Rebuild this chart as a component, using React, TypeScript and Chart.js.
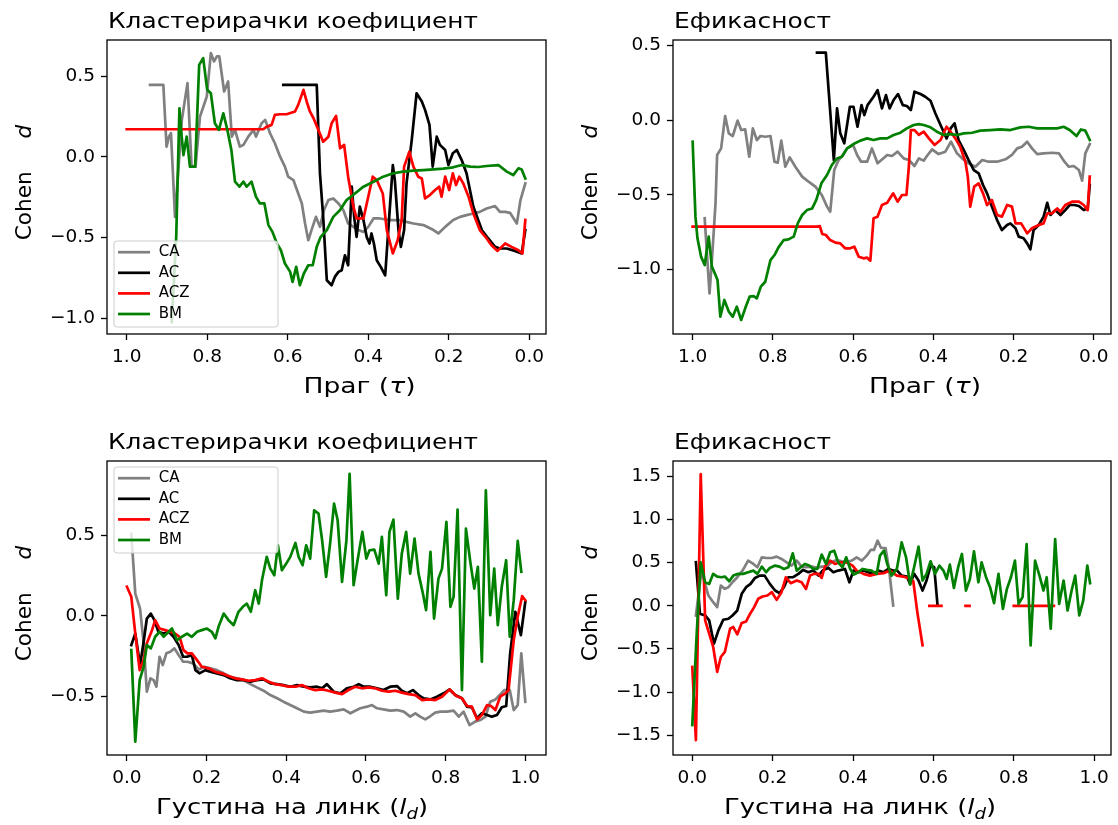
import React, { useEffect, useRef } from "react";
import { Chart, registerables } from "chart.js";

Chart.register(...registerables);

type Pt = [number, number | null];

const SERIES_NAMES = ["CA", "AC", "ACZ", "BM"];
const SERIES_COLORS = ["#808080", "#000000", "#ff0000", "#008000"];

const TITLE_CLUST = "Кластерирачки коефициент";
const TITLE_EFF = "Ефикасност";

const X_TICKS = [0, 0.2, 0.4, 0.6, 0.8, 1.0];
const Y_TICKS_TAU = [-1.0, -0.5, 0, 0.5];
const Y_TICKS_DENS_CLUST = [-0.5, 0, 0.5];
const Y_TICKS_DENS_EFF = [-1.5, -1.0, -0.5, 0, 0.5, 1.0, 1.5];

// Threshold sweep, clustering coefficient
const TAU_CLUST_CA: Pt[] = [
  [0.942, 0.447], [0.909, 0.447], [0.901, 0.064], [0.895, 0.126], [0.89, 0.147], [0.88, -0.371],
  [0.863, 0.23], [0.849, 0.458], [0.839, -0.05], [0.829, -0.06], [0.818, 0.25], [0.801, 0.375],
  [0.791, 0.644], [0.783, 0.592], [0.776, 0.623], [0.77, 0.623], [0.758, 0.406], [0.748, 0.468],
  [0.739, 0.126], [0.731, 0.168], [0.719, 0.064], [0.71, 0.075], [0.698, 0.126], [0.685, 0.168],
  [0.679, 0.126], [0.665, 0.209], [0.656, 0.23], [0.644, 0.147], [0.632, 0.085], [0.619, 0.002],
  [0.607, -0.06], [0.599, -0.122], [0.586, -0.143], [0.574, -0.226], [0.565, -0.288], [0.557, -0.412],
  [0.549, -0.516], [0.541, -0.453], [0.53, -0.371], [0.52, -0.433], [0.51, -0.329], [0.499, -0.267],
  [0.487, -0.257], [0.474, -0.288], [0.462, -0.329], [0.45, -0.412], [0.437, -0.433], [0.425, -0.453],
  [0.412, -0.464], [0.4, -0.433], [0.387, -0.381], [0.371, -0.381], [0.346, -0.391], [0.321, -0.391],
  [0.305, -0.402], [0.288, -0.412], [0.263, -0.422], [0.238, -0.453], [0.226, -0.474], [0.209, -0.433],
  [0.189, -0.391], [0.172, -0.371], [0.156, -0.36], [0.139, -0.35], [0.123, -0.34], [0.106, -0.319],
  [0.085, -0.304], [0.073, -0.34], [0.06, -0.34], [0.048, -0.346], [0.031, -0.412], [0.022, -0.267],
  [0.01, -0.164],
];
const TAU_CLUST_AC: Pt[] = [
  [0.611, 0.447], [0.528, 0.447], [0.52, -0.101], [0.512, -0.371], [0.503, -0.764], [0.491, -0.795],
  [0.483, -0.743], [0.474, -0.712], [0.466, -0.702], [0.458, -0.609], [0.45, -0.671], [0.441, -0.184],
  [0.435, -0.371], [0.429, -0.495], [0.421, -0.308], [0.412, -0.391], [0.404, -0.495], [0.397, -0.536],
  [0.392, -0.474], [0.386, -0.536], [0.379, -0.64], [0.369, -0.681], [0.358, -0.733], [0.348, -0.371],
  [0.339, -0.05], [0.334, -0.143], [0.325, -0.453], [0.319, -0.557], [0.311, -0.453], [0.305, -0.164],
  [0.292, 0.106], [0.28, 0.395], [0.267, 0.344], [0.259, 0.292], [0.248, 0.199], [0.24, -0.06],
  [0.23, 0.126], [0.222, 0.075], [0.209, 0.043], [0.201, -0.05], [0.19, 0.023], [0.18, 0.043],
  [0.168, -0.019], [0.156, -0.101], [0.139, -0.308], [0.118, -0.453], [0.102, -0.505], [0.085, -0.557],
  [0.073, -0.567], [0.056, -0.567], [0.036, -0.582], [0.019, -0.598], [0.01, -0.453],
];
const TAU_CLUST_ACZ: Pt[] = [
  [1.0, 0.172], [0.661, 0.172], [0.652, 0.188], [0.64, 0.199], [0.632, 0.261], [0.619, 0.265],
  [0.603, 0.265], [0.582, 0.282], [0.574, 0.323], [0.561, 0.416], [0.553, 0.344], [0.545, 0.282],
  [0.536, 0.24], [0.524, 0.168], [0.512, 0.095], [0.499, 0.126], [0.491, 0.209], [0.48, 0.255],
  [0.47, 0.054], [0.46, 0.075], [0.45, -0.122], [0.437, -0.308], [0.429, -0.381], [0.412, -0.381],
  [0.4, -0.246], [0.389, -0.122], [0.379, -0.143], [0.364, -0.226], [0.354, -0.453], [0.339, -0.598],
  [0.327, -0.516], [0.317, -0.391], [0.311, -0.06], [0.298, 0.033], [0.288, -0.06], [0.276, -0.122],
  [0.267, -0.133], [0.259, -0.257], [0.247, -0.236], [0.234, -0.205], [0.224, -0.184], [0.218, -0.246],
  [0.209, -0.122], [0.199, -0.205], [0.19, -0.101], [0.182, -0.174], [0.174, -0.122], [0.164, -0.164],
  [0.151, -0.246], [0.139, -0.35], [0.123, -0.453], [0.106, -0.505], [0.094, -0.547], [0.079, -0.582],
  [0.06, -0.536], [0.044, -0.557], [0.027, -0.578], [0.017, -0.598], [0.01, -0.391],
];
const TAU_CLUST_BM: Pt[] = [
  [0.888, -1.023], [0.877, -0.495], [0.869, 0.302], [0.865, 0.168], [0.859, 0.012], [0.851, 0.126],
  [0.843, -0.06], [0.83, -0.06], [0.82, 0.571], [0.81, 0.613], [0.8, 0.416], [0.791, 0.395],
  [0.781, 0.209], [0.771, 0.168], [0.76, 0.271], [0.75, 0.168], [0.74, 0.043], [0.731, -0.153],
  [0.72, -0.184], [0.71, -0.153], [0.702, -0.184], [0.69, -0.153], [0.679, -0.246], [0.669, -0.288],
  [0.658, -0.288], [0.648, -0.422], [0.638, -0.464], [0.627, -0.536], [0.617, -0.578], [0.607, -0.66],
  [0.594, -0.712], [0.588, -0.774], [0.579, -0.681], [0.57, -0.795], [0.56, -0.722], [0.549, -0.671],
  [0.538, -0.671], [0.528, -0.557], [0.518, -0.495], [0.503, -0.453], [0.487, -0.371], [0.47, -0.329],
  [0.454, -0.267], [0.433, -0.226], [0.412, -0.184], [0.387, -0.153], [0.363, -0.122], [0.338, -0.101],
  [0.313, -0.091], [0.288, -0.085], [0.263, -0.081], [0.238, -0.077], [0.214, -0.072], [0.189, -0.064],
  [0.168, -0.05], [0.147, -0.06], [0.127, -0.062], [0.106, -0.056], [0.077, -0.05], [0.056, -0.091],
  [0.04, -0.112], [0.027, -0.07], [0.019, -0.077], [0.01, -0.133],
];

// Threshold sweep, efficiency
const TAU_EFF_CA: Pt[] = [
  [0.97, -0.658], [0.958, -1.161], [0.952, -0.938], [0.943, -0.558], [0.939, -0.234], [0.929, -0.19],
  [0.919, 0.027], [0.91, -0.089], [0.9, -0.107], [0.888, -0.004], [0.879, -0.067], [0.869, -0.063],
  [0.859, -0.246], [0.85, -0.056], [0.84, -0.134], [0.831, -0.107], [0.819, -0.112], [0.806, -0.107],
  [0.796, -0.279], [0.788, -0.286], [0.779, -0.138], [0.769, -0.313], [0.758, -0.25], [0.744, -0.313],
  [0.727, -0.379], [0.711, -0.413], [0.694, -0.446], [0.678, -0.502], [0.665, -0.58], [0.657, -0.614],
  [0.647, -0.335], [0.636, -0.268], [0.625, -0.234], [0.615, -0.19], [0.6, -0.167], [0.59, -0.234],
  [0.58, -0.279], [0.565, -0.279], [0.553, -0.19], [0.539, -0.29], [0.525, -0.257], [0.515, -0.234],
  [0.503, -0.241], [0.489, -0.212], [0.474, -0.257], [0.461, -0.268], [0.447, -0.308], [0.436, -0.257],
  [0.424, -0.272], [0.416, -0.241], [0.403, -0.196], [0.387, -0.228], [0.37, -0.212], [0.356, -0.145],
  [0.341, -0.223], [0.328, -0.257], [0.312, -0.29], [0.295, -0.313], [0.278, -0.268], [0.262, -0.279],
  [0.241, -0.279], [0.22, -0.263], [0.204, -0.234], [0.191, -0.19], [0.179, -0.179], [0.166, -0.145],
  [0.154, -0.19], [0.141, -0.228], [0.125, -0.223], [0.104, -0.219], [0.087, -0.223], [0.073, -0.279],
  [0.062, -0.313], [0.05, -0.308], [0.037, -0.335], [0.029, -0.406], [0.021, -0.223], [0.01, -0.161],
];
const TAU_EFF_AC: Pt[] = [
  [0.69, 0.451], [0.668, 0.451], [0.648, -0.268], [0.64, 0.078], [0.632, -0.089], [0.622, -0.156],
  [0.608, 0.089], [0.599, 0.089], [0.589, -0.045], [0.579, 0.1], [0.572, 0.033], [0.564, 0.1],
  [0.549, 0.156], [0.539, 0.2], [0.528, 0.078], [0.518, 0.167], [0.509, 0.078], [0.499, 0.134],
  [0.488, 0.174], [0.476, 0.1], [0.466, 0.094], [0.456, 0.067], [0.447, 0.19], [0.432, 0.174],
  [0.42, 0.156], [0.407, 0.129], [0.395, 0.045], [0.382, -0.033], [0.367, -0.123], [0.357, -0.056],
  [0.347, -0.022], [0.337, -0.134], [0.324, -0.201], [0.312, -0.268], [0.299, -0.335], [0.287, -0.357],
  [0.276, -0.435], [0.266, -0.491], [0.254, -0.58], [0.241, -0.67], [0.229, -0.737], [0.216, -0.703],
  [0.208, -0.692], [0.195, -0.725], [0.187, -0.781], [0.175, -0.792], [0.166, -0.826], [0.158, -0.866],
  [0.15, -0.737], [0.137, -0.703], [0.125, -0.647], [0.116, -0.554], [0.108, -0.636], [0.096, -0.603],
  [0.083, -0.636], [0.071, -0.603], [0.06, -0.569], [0.048, -0.569], [0.037, -0.576], [0.025, -0.603],
  [0.015, -0.592], [0.01, -0.435],
];
const TAU_EFF_ACZ: Pt[] = [
  [1.0, -0.714], [0.69, -0.714], [0.683, -0.71], [0.677, -0.763], [0.668, -0.77], [0.657, -0.804],
  [0.644, -0.821], [0.632, -0.826], [0.62, -0.859], [0.607, -0.859], [0.597, -0.848], [0.586, -0.915],
  [0.574, -0.926], [0.565, -0.922], [0.557, -0.942], [0.549, -0.658], [0.539, -0.647], [0.528, -0.569],
  [0.515, -0.554], [0.5, -0.491], [0.489, -0.547], [0.478, -0.502], [0.467, -0.502], [0.461, -0.313],
  [0.456, -0.067], [0.447, -0.067], [0.436, -0.1], [0.424, -0.078], [0.411, -0.123], [0.397, -0.167],
  [0.382, -0.134], [0.367, -0.045], [0.357, -0.078], [0.345, -0.123], [0.333, -0.179], [0.32, -0.279],
  [0.314, -0.379], [0.308, -0.58], [0.298, -0.446], [0.287, -0.424], [0.276, -0.491], [0.266, -0.569],
  [0.254, -0.536], [0.241, -0.636], [0.229, -0.647], [0.216, -0.569], [0.204, -0.58], [0.195, -0.692],
  [0.181, -0.692], [0.166, -0.759], [0.154, -0.725], [0.137, -0.703], [0.125, -0.692], [0.116, -0.625],
  [0.104, -0.625], [0.091, -0.592], [0.083, -0.614], [0.071, -0.569], [0.054, -0.547], [0.037, -0.547],
  [0.025, -0.569], [0.015, -0.603], [0.01, -0.379],
];
const TAU_EFF_BM: Pt[] = [
  [1.0, -0.145], [0.993, -0.647], [0.988, -0.792], [0.979, -0.915], [0.97, -0.971], [0.96, -0.781],
  [0.952, -0.982], [0.943, -1.038], [0.938, -1.071], [0.931, -1.317], [0.921, -1.205], [0.91, -1.283],
  [0.9, -1.317], [0.89, -1.25], [0.879, -1.339], [0.869, -1.261], [0.858, -1.183], [0.848, -1.179],
  [0.84, -1.194], [0.83, -1.116], [0.819, -1.083], [0.806, -0.938], [0.796, -0.904], [0.786, -0.853],
  [0.773, -0.804], [0.761, -0.799], [0.748, -0.781], [0.738, -0.692], [0.727, -0.636], [0.715, -0.603],
  [0.702, -0.592], [0.692, -0.536], [0.679, -0.424], [0.665, -0.368], [0.653, -0.301], [0.64, -0.257],
  [0.628, -0.246], [0.615, -0.19], [0.599, -0.161], [0.582, -0.138], [0.565, -0.123], [0.549, -0.134],
  [0.532, -0.123], [0.515, -0.123], [0.499, -0.1], [0.482, -0.085], [0.466, -0.056], [0.449, -0.033],
  [0.436, -0.027], [0.424, -0.033], [0.407, -0.049], [0.391, -0.078], [0.374, -0.1], [0.357, -0.094],
  [0.341, -0.1], [0.324, -0.089], [0.303, -0.085], [0.283, -0.071], [0.258, -0.067], [0.233, -0.063],
  [0.208, -0.067], [0.183, -0.049], [0.162, -0.045], [0.141, -0.056], [0.116, -0.056], [0.091, -0.056],
  [0.075, -0.045], [0.06, -0.067], [0.043, -0.107], [0.032, -0.063], [0.021, -0.071], [0.01, -0.134],
];

// Link density sweep, clustering coefficient
const DENS_CLUST_CA: Pt[] = [
  [0.011, 0.51], [0.021, 0.138], [0.033, 0.045], [0.042, -0.171], [0.05, -0.471], [0.059, -0.388],
  [0.067, -0.399], [0.074, -0.44], [0.082, -0.254], [0.09, -0.306], [0.099, -0.233], [0.109, -0.223],
  [0.119, -0.202], [0.13, -0.244], [0.141, -0.285], [0.152, -0.285], [0.166, -0.295], [0.18, -0.333],
  [0.194, -0.316], [0.209, -0.326], [0.226, -0.337], [0.243, -0.357], [0.259, -0.378], [0.276, -0.388],
  [0.293, -0.399], [0.31, -0.424], [0.326, -0.444], [0.343, -0.465], [0.36, -0.492], [0.377, -0.512],
  [0.393, -0.533], [0.41, -0.554], [0.427, -0.574], [0.444, -0.595], [0.46, -0.601], [0.477, -0.595],
  [0.494, -0.589], [0.51, -0.595], [0.527, -0.589], [0.544, -0.581], [0.561, -0.605], [0.573, -0.589],
  [0.586, -0.574], [0.603, -0.564], [0.615, -0.554], [0.628, -0.574], [0.644, -0.581], [0.661, -0.589],
  [0.678, -0.585], [0.695, -0.595], [0.711, -0.626], [0.724, -0.605], [0.736, -0.626], [0.749, -0.643],
  [0.762, -0.622], [0.774, -0.601], [0.787, -0.595], [0.803, -0.595], [0.82, -0.589], [0.833, -0.626],
  [0.845, -0.595], [0.86, -0.678], [0.874, -0.657], [0.887, -0.647], [0.9, -0.626], [0.912, -0.533],
  [0.925, -0.519], [0.936, -0.492], [0.947, -0.461], [0.961, -0.461], [0.971, -0.585], [0.981, -0.554],
  [0.99, -0.233], [1.0, -0.533],
];
const DENS_CLUST_AC: Pt[] = [
  [0.011, -0.182], [0.021, -0.11], [0.033, -0.306], [0.042, -0.161], [0.05, -0.017], [0.06, 0.014],
  [0.069, -0.027], [0.079, -0.099], [0.092, -0.11], [0.105, -0.099], [0.117, -0.13], [0.13, -0.182],
  [0.141, -0.254], [0.151, -0.254], [0.163, -0.244], [0.172, -0.337], [0.182, -0.357], [0.197, -0.337],
  [0.209, -0.347], [0.226, -0.357], [0.243, -0.368], [0.259, -0.388], [0.276, -0.399], [0.293, -0.399],
  [0.31, -0.409], [0.326, -0.399], [0.343, -0.395], [0.36, -0.419], [0.377, -0.424], [0.393, -0.43],
  [0.41, -0.44], [0.427, -0.43], [0.444, -0.44], [0.46, -0.444], [0.477, -0.44], [0.49, -0.45],
  [0.502, -0.424], [0.519, -0.471], [0.536, -0.481], [0.552, -0.45], [0.569, -0.44], [0.582, -0.424],
  [0.594, -0.44], [0.611, -0.44], [0.628, -0.45], [0.644, -0.461], [0.661, -0.44], [0.678, -0.436],
  [0.69, -0.465], [0.703, -0.481], [0.718, -0.461], [0.732, -0.492], [0.745, -0.512], [0.762, -0.519],
  [0.778, -0.502], [0.795, -0.481], [0.81, -0.457], [0.824, -0.492], [0.841, -0.512], [0.854, -0.564],
  [0.866, -0.568], [0.879, -0.636], [0.891, -0.605], [0.904, -0.616], [0.916, -0.626], [0.929, -0.616],
  [0.941, -0.568], [0.952, -0.56], [0.962, -0.233], [0.975, 0.025], [0.989, -0.12], [1.0, 0.087],
];
const DENS_CLUST_ACZ: Pt[] = [
  [0.0, 0.18], [0.011, 0.118], [0.021, -0.11], [0.032, -0.337], [0.042, -0.275], [0.05, -0.171],
  [0.063, -0.089], [0.071, -0.027], [0.082, -0.079], [0.096, -0.089], [0.109, -0.099], [0.121, -0.11],
  [0.132, -0.13], [0.142, -0.213], [0.152, -0.233], [0.163, -0.233], [0.176, -0.275], [0.188, -0.316],
  [0.205, -0.326], [0.222, -0.347], [0.238, -0.357], [0.255, -0.374], [0.272, -0.388], [0.289, -0.395],
  [0.305, -0.403], [0.322, -0.399], [0.339, -0.388], [0.356, -0.409], [0.372, -0.424], [0.389, -0.43],
  [0.406, -0.44], [0.423, -0.44], [0.439, -0.43], [0.456, -0.45], [0.473, -0.461], [0.49, -0.457],
  [0.506, -0.465], [0.523, -0.477], [0.54, -0.486], [0.556, -0.461], [0.573, -0.44], [0.59, -0.45],
  [0.607, -0.444], [0.623, -0.45], [0.64, -0.465], [0.657, -0.471], [0.674, -0.465], [0.69, -0.477],
  [0.707, -0.486], [0.724, -0.492], [0.741, -0.523], [0.757, -0.519], [0.774, -0.523], [0.791, -0.502],
  [0.81, -0.457], [0.827, -0.498], [0.841, -0.512], [0.854, -0.56], [0.866, -0.564], [0.879, -0.643],
  [0.891, -0.616], [0.904, -0.554], [0.914, -0.56], [0.925, -0.585], [0.937, -0.502], [0.95, -0.481],
  [0.958, -0.461], [0.971, -0.151], [0.981, -0.006], [0.992, 0.122], [1.0, 0.097],
];
const DENS_CLUST_BM: Pt[] = [
  [0.011, -0.213], [0.021, -0.781], [0.032, -0.399], [0.042, -0.316], [0.05, -0.182], [0.06, -0.202],
  [0.071, -0.13], [0.082, -0.099], [0.092, -0.13], [0.105, -0.099], [0.113, -0.079], [0.126, -0.151],
  [0.138, -0.13], [0.151, -0.11], [0.163, -0.13], [0.176, -0.099], [0.188, -0.089], [0.201, -0.079],
  [0.213, -0.099], [0.222, -0.14], [0.23, -0.068], [0.243, 0.014], [0.255, -0.027], [0.268, -0.058],
  [0.28, 0.025], [0.291, 0.056], [0.301, 0.076], [0.311, 0.025], [0.322, 0.159], [0.331, 0.076],
  [0.339, 0.221], [0.351, 0.366], [0.36, 0.293], [0.37, 0.252], [0.379, 0.438], [0.389, 0.283],
  [0.4, 0.324], [0.41, 0.366], [0.423, 0.452], [0.431, 0.366], [0.441, 0.314], [0.45, 0.438],
  [0.46, 0.355], [0.47, 0.655], [0.481, 0.634], [0.49, 0.469], [0.5, 0.242], [0.51, 0.448],
  [0.52, 0.696], [0.529, 0.593], [0.54, 0.211], [0.551, 0.469], [0.559, 0.882], [0.569, 0.19],
  [0.579, 0.345], [0.591, 0.521], [0.601, 0.355], [0.609, 0.407], [0.621, 0.411], [0.632, 0.324],
  [0.64, 0.49], [0.651, 0.128], [0.659, 0.521], [0.669, 0.597], [0.68, 0.107], [0.69, 0.386],
  [0.701, 0.521], [0.711, 0.262], [0.722, 0.479], [0.732, 0.262], [0.743, 0.138], [0.751, 0.035],
  [0.762, 0.397], [0.771, -0.017], [0.782, 0.231], [0.791, 0.293], [0.802, 0.583], [0.812, 0.056],
  [0.82, 0.118], [0.83, 0.659], [0.841, -0.461], [0.851, 0.541], [0.862, 0.335], [0.872, 0.169],
  [0.881, 0.304], [0.891, -0.285], [0.901, 0.779], [0.912, 0.004], [0.922, 0.293], [0.931, -0.058],
  [0.941, 0.18], [0.952, 0.345], [0.961, -0.13], [0.971, 0.097], [0.981, 0.465], [0.99, 0.273],
];

// Link density sweep, efficiency
const DENS_EFF_CA: Pt[] = [
  [0.009, -0.112], [0.023, 0.408], [0.04, 0.119], [0.052, 0.042], [0.062, -0.015], [0.071, 0.235],
  [0.081, 0.196], [0.09, 0.216], [0.1, 0.273], [0.112, 0.331], [0.125, 0.408], [0.139, 0.524],
  [0.152, 0.485], [0.162, 0.447], [0.173, 0.562], [0.185, 0.554], [0.198, 0.554], [0.21, 0.57],
  [0.222, 0.543], [0.235, 0.504], [0.247, 0.466], [0.26, 0.524], [0.272, 0.454], [0.285, 0.447],
  [0.297, 0.454], [0.31, 0.439], [0.322, 0.454], [0.334, 0.454], [0.347, 0.504], [0.359, 0.531],
  [0.372, 0.516], [0.384, 0.504], [0.397, 0.524], [0.409, 0.562], [0.422, 0.524], [0.434, 0.581],
  [0.444, 0.647], [0.452, 0.647], [0.461, 0.755], [0.47, 0.67], [0.481, 0.67], [0.49, 0.408],
  [0.5, 0.004],
];
const DENS_EFF_AC: Pt[] = [
  [0.009, 0.504], [0.019, -0.092], [0.032, -0.112], [0.042, -0.169], [0.054, -0.439], [0.065, -0.285],
  [0.077, -0.162], [0.09, -0.15], [0.1, -0.112], [0.112, -0.054], [0.123, 0.139], [0.134, 0.216],
  [0.145, 0.254], [0.156, 0.323], [0.168, 0.35], [0.18, 0.35], [0.193, 0.254], [0.206, 0.177],
  [0.217, 0.146], [0.228, 0.216], [0.239, 0.331], [0.251, 0.331], [0.264, 0.37], [0.276, 0.416],
  [0.289, 0.389], [0.301, 0.408], [0.314, 0.35], [0.326, 0.416], [0.339, 0.439], [0.351, 0.389],
  [0.363, 0.408], [0.38, 0.427], [0.391, 0.273], [0.401, 0.408], [0.413, 0.389], [0.426, 0.408],
  [0.438, 0.389], [0.451, 0.37], [0.463, 0.408], [0.476, 0.389], [0.488, 0.427], [0.5, 0.408],
  [0.51, 0.408], [0.521, 0.35], [0.534, 0.339], [0.542, 0.254], [0.552, 0.37], [0.563, 0.293],
  [0.573, 0.177], [0.583, 0.293], [0.593, 0.466], [0.602, 0.447], [0.61, 0.023],
];
const DENS_EFF_ACZ: Pt[] = [
  [0.0, -0.709], [0.009, -1.556], [0.021, 1.525], [0.032, -0.169], [0.042, -0.323], [0.052, -0.477],
  [0.062, -0.766], [0.071, -0.593], [0.081, -0.535], [0.094, -0.266], [0.102, -0.246], [0.112, -0.331],
  [0.123, -0.2], [0.134, -0.181], [0.144, -0.092], [0.154, -0.015], [0.164, 0.081], [0.175, 0.108],
  [0.187, 0.119], [0.198, 0.158], [0.21, 0.069], [0.222, 0.158], [0.233, 0.331], [0.245, 0.262],
  [0.26, 0.293], [0.272, 0.273], [0.283, 0.196], [0.293, 0.35], [0.303, 0.37], [0.314, 0.37],
  [0.322, 0.323], [0.33, 0.454], [0.343, 0.524], [0.355, 0.485], [0.368, 0.504], [0.384, 0.504],
  [0.399, 0.466], [0.409, 0.408], [0.426, 0.37], [0.442, 0.35], [0.459, 0.37], [0.476, 0.377],
  [0.492, 0.408], [0.509, 0.35], [0.525, 0.339], [0.542, 0.312], [0.55, 0.285], [0.56, -0.073],
  [0.573, -0.458], [0.58, null],
  [0.59, 0], [0.6, 0], [0.61, 0], [0.62, 0], [0.65, null],
  [0.68, 0], [0.69, 0], [0.75, null],
  [0.8, 0], [0.81, 0], [0.82, 0], [0.83, 0], [0.84, 0], [0.85, 0], [0.86, 0], [0.87, 0],
  [0.88, 0], [0.89, 0], [0.9, 0],
];
const DENS_EFF_BM: Pt[] = [
  [0.0, -1.382], [0.011, -0.323], [0.021, 0.504], [0.032, 0.273], [0.042, 0.254], [0.052, 0.37],
  [0.062, 0.339], [0.073, 0.331], [0.081, 0.339], [0.092, 0.285], [0.102, 0.35], [0.114, 0.37],
  [0.127, 0.37], [0.139, 0.389], [0.152, 0.408], [0.162, 0.37], [0.173, 0.454], [0.184, 0.389],
  [0.193, 0.439], [0.206, 0.466], [0.217, 0.454], [0.228, 0.427], [0.239, 0.447], [0.25, 0.608],
  [0.26, 0.408], [0.27, 0.447], [0.28, 0.485], [0.291, 0.466], [0.301, 0.427], [0.311, 0.427],
  [0.322, 0.593], [0.333, 0.485], [0.343, 0.62], [0.353, 0.639], [0.363, 0.504], [0.374, 0.447],
  [0.383, 0.562], [0.393, 0.427], [0.402, 0.362], [0.413, 0.389], [0.424, 0.427], [0.434, 0.416],
  [0.446, 0.408], [0.459, 0.37], [0.467, 0.581], [0.477, 0.639], [0.485, 0.485], [0.496, 0.35],
  [0.509, 0.427], [0.521, 0.735], [0.532, 0.562], [0.542, 0.246], [0.552, 0.447], [0.563, 0.685],
  [0.573, 0.293], [0.583, 0.37], [0.593, 0.516], [0.604, 0.37], [0.615, 0.466], [0.625, 0.408],
  [0.633, 0.312], [0.641, 0.477], [0.651, 0.208], [0.662, 0.454], [0.671, 0.601], [0.681, 0.177],
  [0.691, 0.312], [0.701, 0.631], [0.712, 0.273], [0.72, 0.504], [0.731, 0.331], [0.741, 0.216],
  [0.751, 0.031], [0.762, 0.37], [0.773, -0.035], [0.783, 0.196], [0.793, 0.331], [0.803, 0.524],
  [0.812, 0.023], [0.822, 0.1], [0.832, 0.716], [0.842, -0.458], [0.853, 0.524], [0.864, 0.35],
  [0.874, 0.177], [0.882, 0.331], [0.892, -0.266], [0.903, 0.774], [0.913, 0.023], [0.924, 0.293],
  [0.934, -0.054], [0.944, 0.177], [0.953, 0.35], [0.963, -0.112], [0.973, 0.062], [0.983, 0.466],
  [0.99, 0.262],
];

// ---------- drawing helpers ----------
const W = 1118;
const H = 825;
const FONT = '"DejaVu Sans"';
const TICK_SIZE = 18.5;
const LABEL_SIZE = 21.6;
const LEGEND_SIZE = 15;
const Y_AXIS_W = 60;
const X_AXIS_H = 40;

type Seg = { t: string; italic?: boolean; sub?: boolean; gap?: number };

const segFont = (size: number, s: Seg) =>
  `${s.italic ? "italic " : ""}${s.sub ? size * 0.7 : size}px ${FONT}`;

function richWidth(ctx: CanvasRenderingContext2D, segs: Seg[], size: number) {
  let w = 0;
  for (const s of segs) {
    if (s.gap) { w += s.gap; continue; }
    ctx.font = segFont(size, s);
    w += ctx.measureText(s.t).width;
  }
  return w;
}

// Draws a run of text segments centred on (x, y); the run is stretched horizontally to `span` px if given.
function drawRich(
  ctx: CanvasRenderingContext2D, segs: Seg[], x: number, y: number, size: number, span?: number,
) {
  const natural = richWidth(ctx, segs, size);
  const sx = span ? span / natural : 1;
  ctx.save();
  ctx.translate(x, y);
  ctx.scale(sx, 1);
  let cx = -natural / 2;
  for (const s of segs) {
    if (s.gap) { cx += s.gap; continue; }
    ctx.font = segFont(size, s);
    ctx.fillText(s.t, cx, s.sub ? size * 0.22 : 0);
    cx += ctx.measureText(s.t).width;
  }
  ctx.restore();
}

const fmtTick = (v: number) => (v < 0 ? "\u2212" + Math.abs(v).toFixed(1) : v.toFixed(1));

const XLABEL_TAU: Seg[] = [{ t: "Праг (" }, { t: "τ", italic: true }, { t: ")" }];
const XLABEL_DENS: Seg[] = [
  { t: "Густина на линк (" }, { t: "l", italic: true }, { t: "d", italic: true, sub: true }, { t: ")" },
];
const YLABEL: Seg[] = [{ t: "Cohen" }, { t: "", gap: 33 }, { t: "d", italic: true }];

type Panel = {
  box: { l: number; t: number; r: number; b: number };
  xMin: number; xMax: number; reverse: boolean;
  yMin: number; yMax: number; yTicks: number[];
  title: string; titleSpan: number;
  xlabel: Seg[]; xlabelX: number; xlabelSpan: number; ylabelX: number;
  legend: { x: number; y: number } | null;
  series: Pt[][];
};

const PANELS: Panel[] = [
  {
    box: { l: 107, t: 40, r: 546, b: 334 }, xMin: -0.0414, xMax: 1.0489, reverse: true,
    yMin: -1.097, yMax: 0.725, yTicks: Y_TICKS_TAU, title: TITLE_CLUST, titleSpan: 370,
    xlabel: XLABEL_TAU, xlabelX: 359.5, xlabelSpan: 112, ylabelX: 31, legend: { x: 114, y: 241 },
    series: [TAU_CLUST_CA, TAU_CLUST_AC, TAU_CLUST_ACZ, TAU_CLUST_BM],
  },
  {
    box: { l: 673, t: 40, r: 1111, b: 334 }, xMin: -0.043, xMax: 1.049, reverse: true,
    yMin: -1.433, yMax: 0.536, yTicks: Y_TICKS_TAU, title: TITLE_EFF, titleSpan: 157,
    xlabel: XLABEL_TAU, xlabelX: 925, xlabelSpan: 112, ylabelX: 597, legend: null,
    series: [TAU_EFF_CA, TAU_EFF_AC, TAU_EFF_ACZ, TAU_EFF_BM],
  },
  {
    box: { l: 107, t: 461, r: 546, b: 755 }, xMin: -0.05, xMax: 1.052, reverse: false,
    yMin: -0.864, yMax: 0.961, yTicks: Y_TICKS_DENS_CLUST, title: TITLE_CLUST, titleSpan: 370,
    xlabel: XLABEL_DENS, xlabelX: 292, xlabelSpan: 272, ylabelX: 31, legend: { x: 114, y: 467 },
    series: [DENS_CLUST_CA, DENS_CLUST_AC, DENS_CLUST_ACZ, DENS_CLUST_BM],
  },
  {
    box: { l: 673, t: 461, r: 1111, b: 755 }, xMin: -0.048, xMax: 1.042, reverse: false,
    yMin: -1.729, yMax: 1.678, yTicks: Y_TICKS_DENS_EFF, title: TITLE_EFF, titleSpan: 157,
    xlabel: XLABEL_DENS, xlabelX: 860, xlabelSpan: 272, ylabelX: 597, legend: null,
    series: [DENS_EFF_CA, DENS_EFF_AC, DENS_EFF_ACZ, DENS_EFF_BM],
  },
];

function drawLegend(ctx: CanvasRenderingContext2D, lx: number, ly: number) {
  const w = 164, h = 86, r = 3;
  ctx.save();
  ctx.beginPath();
  ctx.moveTo(lx + r, ly);
  ctx.arcTo(lx + w, ly, lx + w, ly + h, r);
  ctx.arcTo(lx + w, ly + h, lx, ly + h, r);
  ctx.arcTo(lx, ly + h, lx, ly, r);
  ctx.arcTo(lx, ly, lx + w, ly, r);
  ctx.closePath();
  ctx.fillStyle = "rgba(255,255,255,0.8)";
  ctx.fill();
  ctx.strokeStyle = "#cccccc";
  ctx.lineWidth = 1;
  ctx.stroke();
  SERIES_NAMES.forEach((name, i) => {
    const y = ly + 11.2 + i * 20.6;
    ctx.strokeStyle = SERIES_COLORS[i];
    ctx.lineWidth = 2.7;
    ctx.beginPath();
    ctx.moveTo(lx + 4, y);
    ctx.lineTo(lx + 36, y);
    ctx.stroke();
    ctx.fillStyle = "#000";
    ctx.font = `${LEGEND_SIZE}px ${FONT}`;
    ctx.textBaseline = "middle";
    ctx.textAlign = "left";
    ctx.fillText(name, lx + 44.7, y);
  });
  ctx.restore();
}

function makeDecor(p: Panel) {
  return {
    id: "panelDecor",
    afterDatasetsDraw(chart: Chart) {
      const { ctx, chartArea: a } = chart;
      ctx.save();
      ctx.strokeStyle = "#000";
      ctx.lineWidth = 1.3;
      ctx.strokeRect(a.left, a.top, a.right - a.left, a.bottom - a.top);
      ctx.restore();
    },
    afterDraw(chart: Chart) {
      const { ctx, chartArea: a } = chart;
      ctx.save();
      ctx.fillStyle = "#000";
      ctx.textBaseline = "alphabetic";
      ctx.textAlign = "left";
      // title, left-aligned with the plot frame
      drawRich(ctx, [{ t: p.title }], a.left + 1 + p.titleSpan / 2, a.top - 12.5, LABEL_SIZE, p.titleSpan);
      drawRich(ctx, p.xlabel, p.xlabelX, a.bottom + 59, LABEL_SIZE, p.xlabelSpan);
      ctx.save();
      ctx.translate(p.ylabelX, (a.top + a.bottom) / 2 - 4.5);
      ctx.rotate(-Math.PI / 2);
      drawRich(ctx, YLABEL, 0, 0, LABEL_SIZE);
      ctx.restore();
      ctx.restore();
      if (p.legend) drawLegend(ctx, p.legend.x, p.legend.y);
    },
  };
}

function PanelChart({ p }: { p: Panel }) {
  const ref = useRef<HTMLCanvasElement>(null);
  useEffect(() => {
    if (!ref.current) return;
    const tickFont = { family: "DejaVu Sans", size: TICK_SIZE };
    const gridOpts = {
      display: true, drawOnChartArea: false, drawTicks: true,
      tickLength: 6, tickColor: "#000", tickWidth: 1.3,
    };
    const chart = new Chart(ref.current, {
      type: "line",
      data: {
        datasets: p.series.map((pts, i) => ({
          label: SERIES_NAMES[i],
          data: pts.map(([x, y]) => ({ x, y })),
          borderColor: SERIES_COLORS[i],
          backgroundColor: SERIES_COLORS[i],
          borderWidth: 2.7,
          pointRadius: 0,
          tension: 0,
          spanGaps: false,
          borderJoinStyle: "round" as const,
          borderCapStyle: "square" as const,
          order: SERIES_NAMES.length - i,
        })),
      },
      options: {
        responsive: false,
        animation: false,
        events: [],
        layout: {
          padding: {
            left: p.box.l - Y_AXIS_W,
            top: p.box.t,
            right: W - p.box.r,
            bottom: H - p.box.b - X_AXIS_H,
          },
        },
        plugins: { legend: { display: false }, tooltip: { enabled: false }, title: { display: false } },
        scales: {
          x: {
            type: "linear", min: p.xMin, max: p.xMax, reverse: p.reverse,
            afterFit: (s: any) => { s.height = X_AXIS_H; },
            afterBuildTicks: (s: any) => { s.ticks = X_TICKS.map((v) => ({ value: v })); },
            ticks: {
              font: tickFont, color: "#000", padding: 6, maxRotation: 0, autoSkip: false,
              callback: (v: any) => fmtTick(Number(v)),
            },
            grid: gridOpts,
            border: { display: false },
          },
          y: {
            type: "linear", min: p.yMin, max: p.yMax,
            afterFit: (s: any) => { s.width = Y_AXIS_W; },
            afterBuildTicks: (s: any) => { s.ticks = p.yTicks.map((v) => ({ value: v })); },
            ticks: {
              font: tickFont, color: "#000", padding: 6, autoSkip: false,
              callback: (v: any) => fmtTick(Number(v)),
            },
            grid: gridOpts,
            border: { display: false },
          },
        },
      },
      plugins: [makeDecor(p)],
    });
    return () => chart.destroy();
  }, [p]);
  return (
    <canvas
      ref={ref}
      width={W}
      height={H}
      style={{ position: "absolute", left: 0, top: 0, width: W, height: H }}
    />
  );
}

export default function App() {
  return (
    <div style={{ position: "absolute", left: 0, top: 0, width: W, height: H, background: "#fff" }}>
      {PANELS.map((p, i) => (
        <PanelChart key={i} p={p} />
      ))}
    </div>
  );
}
